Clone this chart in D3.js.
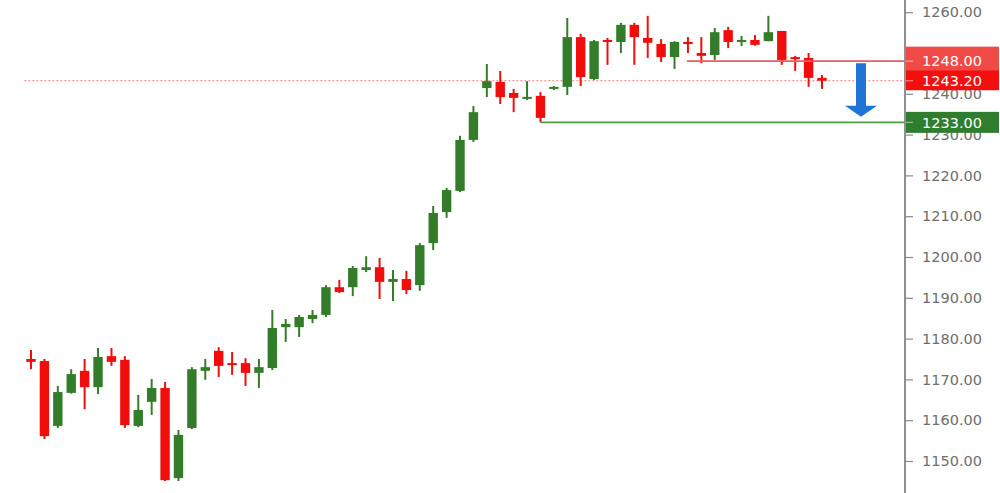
<!DOCTYPE html>
<html>
<head>
<meta charset="utf-8">
<script src="https://cdn.jsdelivr.net/npm/d3@7"></script>
<style>
  html, body { margin: 0; padding: 0; background: #fff; }
  svg { display: block; }
</style>
</head>
<body>
<svg id="chart" width="1000" height="493"></svg>
<script>
// ---- data ----
const categories = d3.range(1, 61).map(d => "Bar " + d);
const openValues  = [1175.0,1174.5,1158.6,1166.7,1172.1,1168.1,1175.7,1174.8,1158.6,1164.5,
                     1167.9,1145.8,1158.1,1172.1,1177.0,1174.0,1174.0,1171.6,1172.8,1182.8,
                     1182.8,1184.8,1185.8,1192.6,1192.6,1196.8,1197.5,1193.9,1194.6,1193.1,
                     1203.4,1211.0,1216.2,1228.7,1241.4,1242.9,1240.2,1238.8,1239.5,1241.2,
                     1241.7,1253.9,1243.6,1253.2,1252.7,1256.9,1253.7,1252.2,1249.0,1252.7,
                     1250.0,1249.5,1255.6,1252.7,1253.2,1252.9,1255.4,1249.0,1248.8,1243.9];
const highValues  = [1177.2,1175.0,1168.4,1172.5,1175.0,1177.7,1177.7,1175.7,1166.2,1170.1,
                     1169.4,1157.6,1173.0,1175.0,1177.9,1176.7,1175.2,1175.0,1187.0,1184.8,
                     1185.8,1187.0,1193.1,1194.4,1197.8,1200.2,1199.8,1196.8,1196.6,1203.4,
                     1212.5,1216.9,1229.7,1237.0,1247.3,1245.6,1241.2,1243.1,1240.4,1241.9,
                     1258.6,1254.7,1253.2,1253.7,1257.4,1257.4,1259.1,1253.4,1252.9,1253.9,
                     1253.9,1256.1,1256.4,1254.2,1254.4,1259.1,1255.4,1249.3,1250.0,1244.6];
const lowValues   = [1172.5,1155.4,1158.1,1166.5,1162.7,1166.4,1173.3,1158.1,1158.3,1161.3,
                     1145.1,1145.1,1157.8,1169.9,1170.6,1171.1,1168.4,1167.9,1172.3,1179.2,
                     1180.4,1183.8,1185.3,1191.2,1190.4,1196.3,1189.7,1189.2,1190.9,1191.7,
                     1201.7,1209.6,1215.9,1228.2,1239.2,1237.5,1235.5,1238.5,1233.0,1240.9,
                     1239.7,1241.9,1243.4,1247.1,1250.0,1247.1,1248.8,1247.8,1246.1,1250.0,
                     1247.5,1248.3,1251.2,1251.7,1251.8,1252.9,1247.1,1245.6,1241.7,1241.2];
const closeValues = [1174.3,1156.1,1166.9,1171.3,1168.1,1175.5,1174.3,1158.8,1162.5,1167.9,
                     1145.3,1156.4,1172.5,1173.0,1173.3,1173.5,1171.6,1173.0,1182.6,1183.6,
                     1185.3,1185.8,1192.6,1191.4,1197.3,1197.5,1193.9,1194.6,1191.9,1202.9,
                     1210.8,1216.4,1228.7,1235.5,1243.1,1239.2,1239.0,1239.2,1234.1,1241.7,
                     1253.9,1244.1,1252.9,1252.7,1256.9,1253.9,1252.5,1249.0,1252.7,1252.2,
                     1249.3,1255.1,1252.7,1253.2,1252.0,1255.1,1248.3,1248.5,1243.9,1243.2];
const tickValues = [1150,1160,1170,1180,1190,1200,1210,1220,1230,1240,1250,1260];
const resistanceLevel = 1248.00;
const lastPrice = 1243.20;
const supportLevel = 1233.00;
const resistanceStartIndex = 49;
const supportStartIndex = 38;
const arrowFrom = 1247.5;
const arrowTo = 1234.4;

const bars = categories.map((c, i) => ({
  cat: c, open: openValues[i], high: highValues[i], low: lowValues[i], close: closeValues[i]
}));

// ---- layout ----
const svg = d3.select("#chart");
const W = 1000, H = 493;
const axisX = 905;

const x = d3.scaleBand().domain(categories).range([24.3, 828.7]).paddingInner(0.3).paddingOuter(0.15);
const y = d3.scaleLinear().domain([1150, 1260]).range([461, 12.2]);

const RED = "#f20d0d";
const GREEN = "#337c29";

// dotted last price line
svg.append("line")
  .attr("x1", x.range()[0]).attr("x2", axisX)
  .attr("y1", y(lastPrice)).attr("y2", y(lastPrice))
  .attr("stroke", "#f07a7a").attr("stroke-width", 1.2)
  .attr("stroke-dasharray", "2,2");

// candles
const g = svg.append("g");
const cx = d => x(d.cat) + x.bandwidth() / 2;
g.selectAll("line.wick").data(bars).join("line")
  .attr("class", "wick")
  .attr("x1", cx).attr("x2", cx)
  .attr("y1", d => y(d.high)).attr("y2", d => y(d.low))
  .attr("stroke", d => d.close >= d.open ? GREEN : RED)
  .attr("stroke-width", 2);
g.selectAll("rect.body").data(bars).join("rect")
  .attr("class", "body")
  .attr("x", d => x(d.cat))
  .attr("width", x.bandwidth())
  .attr("y", d => {
    const t = y(Math.max(d.open, d.close)), b = y(Math.min(d.open, d.close));
    return b - t < 2 ? (t + b) / 2 - 1 : t;
  })
  .attr("height", d => Math.max(2, y(Math.min(d.open, d.close)) - y(Math.max(d.open, d.close))))
  .attr("fill", d => d.close >= d.open ? GREEN : RED);

// resistance line
svg.append("line")
  .attr("x1", x(categories[resistanceStartIndex]) + x.bandwidth() / 2 - 1).attr("x2", axisX)
  .attr("y1", y(resistanceLevel)).attr("y2", y(resistanceLevel))
  .attr("stroke", "#f05a5a").attr("stroke-width", 1.6);

// support line
svg.append("line")
  .attr("x1", x(categories[supportStartIndex]) + x.bandwidth() / 2).attr("x2", axisX)
  .attr("y1", y(supportLevel)).attr("y2", y(supportLevel))
  .attr("stroke", "#4e9e47").attr("stroke-width", 1.8);

// arrow
const ax = x(categories[categories.length - 1]) + x.bandwidth() / 2 + 39;
const yA = y(arrowFrom), yB = y(arrowTo);
const headH = 11, shaftW = 10, headW = 32;
svg.append("path")
  .attr("d", `M${ax - shaftW/2},${yA} L${ax + shaftW/2},${yA} L${ax + shaftW/2},${yB - headH} L${ax + headW/2},${yB - headH} L${ax},${yB} L${ax - headW/2},${yB - headH} L${ax - shaftW/2},${yB - headH} Z`)
  .attr("fill", "#1f74d6");

// axis
const axis = d3.axisRight(y).tickValues(tickValues).tickFormat(d3.format(".2f")).tickSize(8).tickPadding(9);
const axG = svg.append("g").attr("transform", `translate(${axisX},0)`).call(axis);
axG.select(".domain").remove();
axG.selectAll(".tick line").attr("stroke", "#8a8a8a").attr("stroke-width", 1.2);
axG.selectAll(".tick text")
  .attr("fill", "#6e6e6e")
  .style("font-family", "'DejaVu Sans', Verdana, sans-serif")
  .style("font-size", "14.5px");
svg.append("line")
  .attr("x1", axisX).attr("x2", axisX).attr("y1", 0).attr("y2", H)
  .attr("stroke", "#8f8f8f").attr("stroke-width", 2);

// price labels
const labels = [
  { v: resistanceLevel, fill: "#f04a46", top: y(resistanceLevel) - 14.5, h: 24 },
  { v: lastPrice, fill: "#f40f0f", top: y(lastPrice) - 10.5, h: 20 },
  { v: supportLevel, fill: "#2f7d2e", top: y(supportLevel) - 10.5, h: 21 }
];
const lg = svg.append("g");
labels.forEach(l => {
  lg.append("rect").attr("x", axisX + 1).attr("y", l.top).attr("width", 93).attr("height", l.h).attr("fill", l.fill);
  lg.append("line").attr("x1", axisX + 1).attr("x2", axisX + 8).attr("y1", y(l.v)).attr("y2", y(l.v))
    .attr("stroke", "rgba(255,255,255,0.5)").attr("stroke-width", 1.2);
  lg.append("text").attr("x", axisX + 17).attr("y", y(l.v)).attr("dy", "0.36em")
    .attr("fill", "#fff")
    .style("font-family", "'DejaVu Sans', Verdana, sans-serif")
    .style("font-size", "14.5px")
    .text(d3.format(".2f")(l.v));
});
</script>
</body>
</html>
